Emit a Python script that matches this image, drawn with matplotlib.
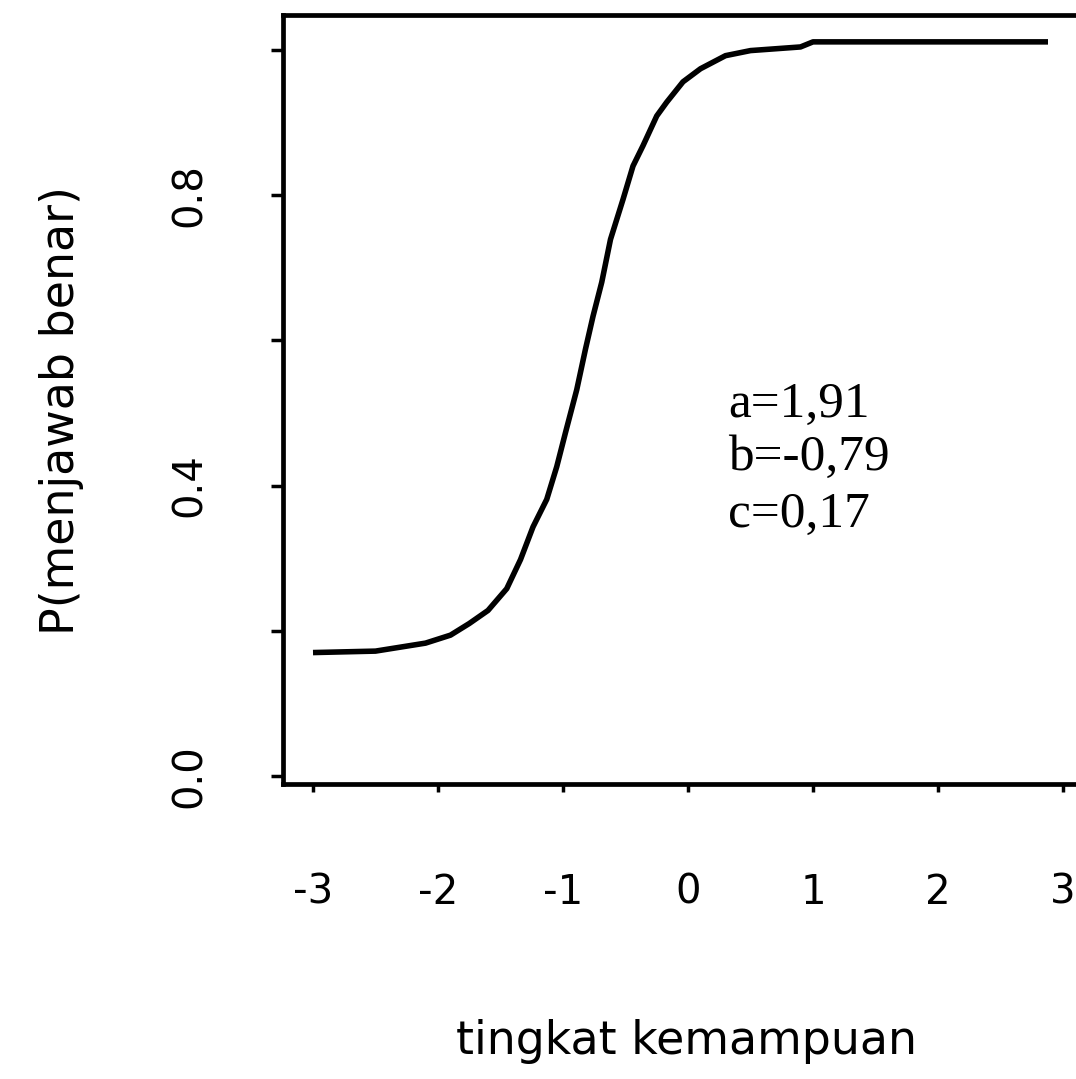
import numpy as np
import matplotlib
matplotlib.use("Agg")
import matplotlib.pyplot as plt

# kurva karakteristik butir
theta = [-3.0, -2.5, -2.1, -1.9, -1.75, -1.6, -1.45, -1.34, -1.24, -1.13,
         -1.05, -0.98, -0.89, -0.82, -0.76, -0.69, -0.62, -0.52, -0.44, -0.36,
         -0.25, -0.17, -0.04, 0.1, 0.3, 0.5, 0.9, 1.0, 2.2, 2.88]
prob = [0.170, 0.172, 0.183, 0.194, 0.210, 0.228, 0.258, 0.298, 0.343, 0.381,
        0.426, 0.473, 0.532, 0.588, 0.633, 0.680, 0.739, 0.794, 0.840, 0.868,
        0.909, 0.928, 0.956, 0.974, 0.992, 0.999, 1.004, 1.011, 1.011, 1.011]

x_ticks = [-3, -2, -1, 0, 1, 2, 3]
x_ticklabels = ["-3", "-2", "-1", "0", "1", "2", "3"]
y_ticks = [0.0, 0.2, 0.4, 0.6, 0.8, 1.0]
y_ticklabels = ["0.0", "", "0.4", "", "0.8", ""]

param_lines = ["a=1,91", "b=-0,79", "c=0,17"]
param_y = [0.511, 0.439, 0.360]

sans = ["DejaVu Sans"]
serif = ["Liberation Serif", "DejaVu Serif"]

W, H = 1076, 1079
fig = plt.figure(figsize=(W / 100, H / 100), dpi=100)
ax = fig.add_axes([283 / W, 1 - 784 / H, (1095 - 283) / W, (784 - 15) / H])

ax.plot(theta, prob, color="black", lw=4.0, solid_capstyle="butt",
        solid_joinstyle="round")

ax.set_xlim(-3.24, 3.256)
ax.set_ylim(-0.011, 1.048)

for s in ax.spines.values():
    s.set_linewidth(3.4)

ax.set_xticks(x_ticks)
ax.set_xticklabels(x_ticklabels, family=sans, fontsize=29)
ax.set_yticks(y_ticks)
ax.set_yticklabels(y_ticklabels, family=sans, fontsize=29, rotation=90, va="center")
ax.tick_params(axis="x", length=6, width=2.5, pad=58)
ax.tick_params(axis="y", length=9, width=2.5, pad=44)

for txt, yy in zip(param_lines, param_y):
    ax.text(0.32, yy, txt, family=serif, fontsize=37, va="center", ha="left")

fig.text(687 / W, 1 - 1042 / H, "tingkat kemampuan", family=sans, fontsize=33,
         ha="center", va="center")
fig.text(62 / W, 1 - 411 / H, "P(menjawab benar)", family=sans, fontsize=33,
         rotation=90, ha="center", va="center")

fig.savefig("out.png", dpi=100)
plt.close(fig)
